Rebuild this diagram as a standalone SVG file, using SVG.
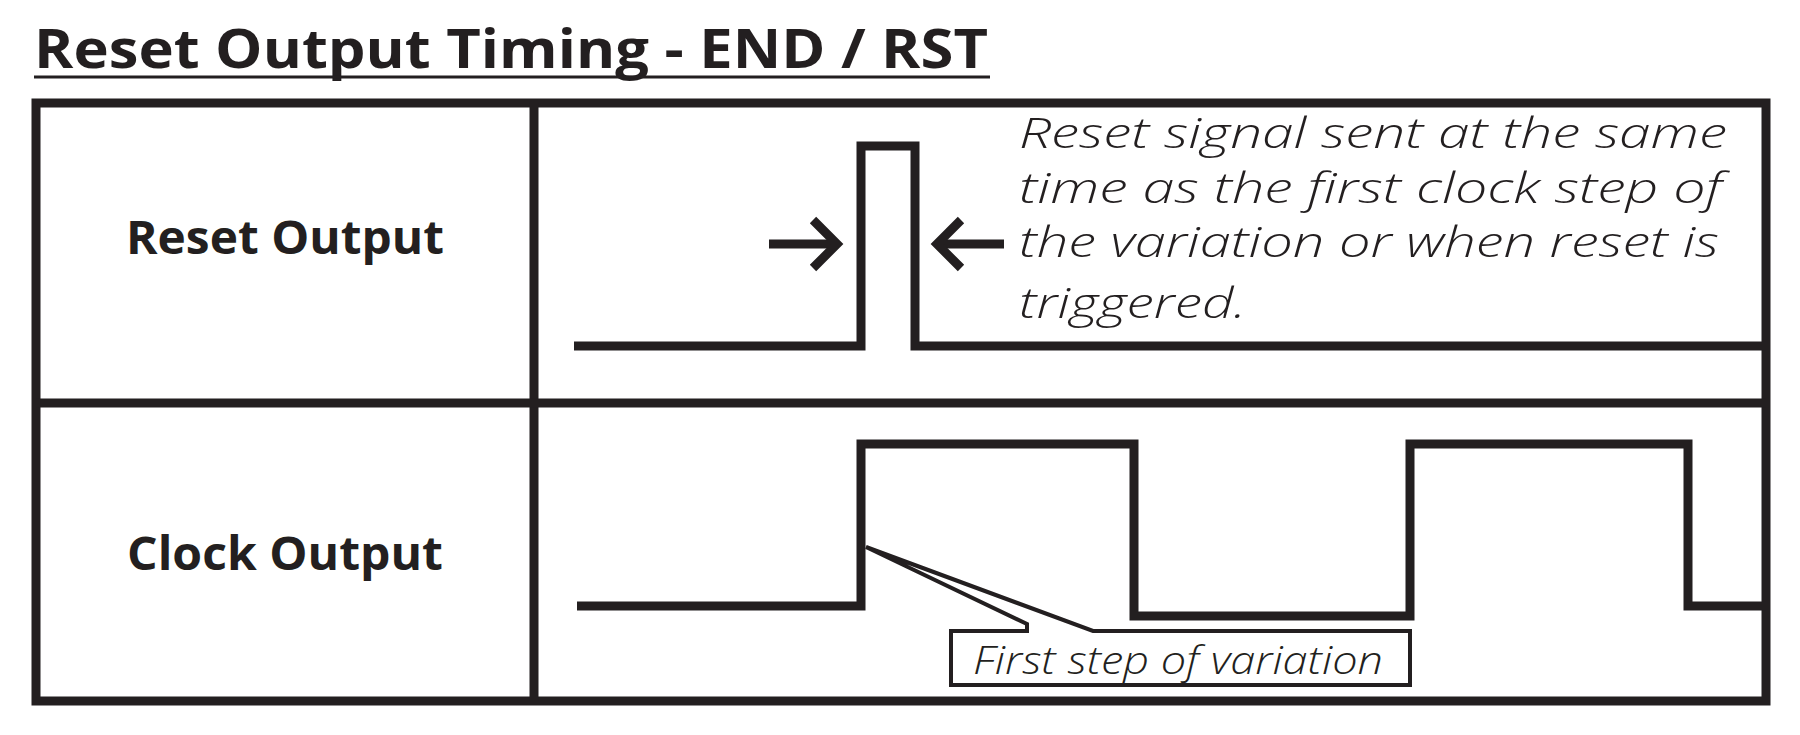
<svg xmlns="http://www.w3.org/2000/svg" width="1800" height="735" viewBox="0 0 1800 735">
<style>
.bold{font-family:"Open Sans","Liberation Sans",sans-serif;font-weight:700;fill:#231f20}
.it{font-family:"Open Sans","Liberation Sans",sans-serif;font-style:italic;font-weight:300;fill:#231f20}
.line{fill:none;stroke:#231f20;stroke-width:9;stroke-linejoin:miter}
</style>
<rect width="1800" height="735" fill="#fff"/>
<g id="title">
<text class="bold" x="34" y="68" font-size="54" textLength="954" lengthAdjust="spacingAndGlyphs">Reset Output Timing - END / RST</text>
<line x1="34" y1="77" x2="990" y2="77" stroke="#231f20" stroke-width="3"/>
</g>
<g id="table">
<rect class="line" x="36" y="103" width="1730" height="598"/>
<line class="line" x1="534" y1="103" x2="534" y2="701"/>
<line class="line" x1="36" y1="403" x2="1766" y2="403"/>
</g>
<g id="reset-label"><text class="bold" x="285" y="254" font-size="46" text-anchor="middle" textLength="318" lengthAdjust="spacingAndGlyphs">Reset Output</text></g>
<g id="clock-label"><text class="bold" x="285" y="570" font-size="46" text-anchor="middle" textLength="316" lengthAdjust="spacingAndGlyphs">Clock Output</text></g>
<g id="connectors">
<path class="line" d="M574,346 H861 V146 H915 V346 H1766"/>
<path class="line" d="M577,606 H861 V444 H1134 V616 H1410 V444 H1688 V606 H1766"/>
<g id="arrow-right"><line class="line" x1="769" y1="244" x2="836" y2="244"/><path class="line" d="M813,220 L837,244 L813,268"/></g>
<g id="arrow-left"><line class="line" x1="937" y1="244" x2="1004" y2="244"/><path class="line" d="M961,220 L937,244 L961,268"/></g>
</g>
<g id="reset-note">
<text class="it" font-size="42"><tspan x="1019" y="148" textLength="708" lengthAdjust="spacingAndGlyphs">Reset signal sent at the same</tspan><tspan x="1019" y="203" textLength="703" lengthAdjust="spacingAndGlyphs">time as the first clock step of</tspan><tspan x="1019" y="257" textLength="700" lengthAdjust="spacingAndGlyphs">the variation or when reset is</tspan><tspan x="1019" y="318" textLength="227" lengthAdjust="spacingAndGlyphs">triggered.</tspan></text>
</g>
<g id="callout">
<path d="M866,547 L1027,624 L1027,631 L951,631 L951,685 L1410,685 L1410,631 L1093,631 Z" fill="#fff" stroke="#231f20" stroke-width="4" stroke-linejoin="miter"/>
<text class="it" x="973" y="674" font-size="38" textLength="410" lengthAdjust="spacingAndGlyphs">First step of variation</text>
</g>
</svg>
